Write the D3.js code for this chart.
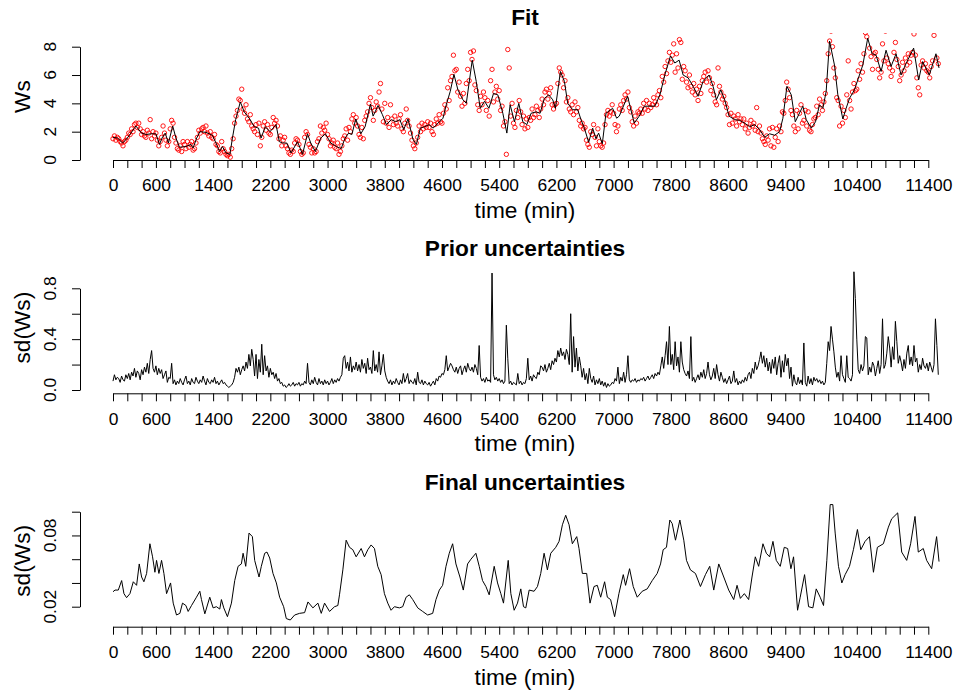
<!DOCTYPE html>
<html>
<head>
<meta charset="utf-8">
<script src="https://cdn.jsdelivr.net/npm/d3@7"></script>
<style>
  html, body { margin: 0; padding: 0; background: #fff; }
  svg { display: block; font-family: "Liberation Sans", Arial, Helvetica, sans-serif; }
</style>
</head>
<body>
<svg id="chart" width="956" height="693"></svg>
<script>
// ---- data -------------------------------------------------------------
// observed wind speed, one reading every 20 minutes starting at t = 0
const obsStep = 20;
const obsWs = [
  1.5,1.7,1.4,1.6,1.5,1.3,1.2,1.0,1.3,1.4, 1.6,1.9,1.8,2.2,2.0,2.5,2.6,2.3,2.6,2.2,
  1.8,2.0,1.7,1.6,2.1,1.9,2.85,1.5,2.0,1.7, 1.9,1.4,1.0,1.3,1.6,2.4,1.9,1.4,1.0,1.3,
  2.2,2.8,2.6,1.6,1.2,0.8,0.7,1.0,0.6,1.3, 1.1,0.8,1.3,0.9,1.1,1.3,0.7,0.8,1.2,1.6,
  2.1,1.9,2.2,2.3,2.0,2.4,1.9,1.7,2.0,1.6, 1.5,1.8,1.1,1.0,0.6,0.5,1.3,0.8,0.6,0.4,
  0.3,0.4,0.2,0.8,1.5,2.6,3.1,3.5,4.3,4.2, 5.0,3.6,3.3,3.9,2.9,2.7,3.2,2.4,2.2,2.0,
  2.5,1.8,2.6,1.0,1.6,2.4,2.7,2.1,2.5,1.9, 1.8,2.3,3.0,2.6,2.8,2.4,1.5,1.7,1.0,1.4,
  1.6,1.0,0.8,0.5,0.4,0.7,0.6,1.2,1.5,1.4, 1.1,0.6,0.4,0.5,1.6,2.0,1.8,1.1,0.9,0.5,
  0.8,0.5,0.6,1.3,1.5,2.4,1.9,2.3,2.1,2.6, 1.8,1.5,1.0,1.2,1.4,0.9,0.8,1.2,0.4,0.6,
  1.0,1.5,1.7,2.2,1.4,2.3,2.0,2.9,3.2,2.6, 3.0,2.4,1.8,1.6,2.3,1.5,2.8,3.1,3.4,4.0,
  4.4,3.7,2.8,3.5,4.1,3.8,4.8,5.4,3.6,2.7, 4.0,2.6,3.0,2.3,3.9,2.9,2.5,3.1,2.6,2.4,
  2.9,3.2,2.2,2.0,2.6,3.6,2.8,2.4,1.9,1.4, 1.0,0.8,1.2,1.6,2.4,2.0,2.6,2.2,2.5,2.3,
  2.7,2.3,2.6,2.0,1.8,2.5,2.9,2.6,3.2,2.7, 2.6,3.3,3.9,3.6,5.1,4.2,5.6,5.9,7.4,6.3,
  6.4,4.8,5.5,4.5,3.8,4.7,4.0,5.4,6.4,5.6, 7.6,7.1,7.7,5.3,4.9,3.9,3.5,4.5,3.9,4.8,
  4.4,3.5,4.2,3.1,5.6,6.4,4.1,4.8,5.2,4.3, 4.9,3.5,3.8,2.4,2.7,0.4,7.8,6.5,3.1,4.0,
  2.6,2.3,3.5,3.0,4.2,3.4,2.5,3.1,2.2,2.9, 2.3,3.0,2.8,3.6,3.0,3.2,3.8,3.5,3.0,3.6,
  4.3,3.9,4.8,5.0,4.3,4.7,5.1,3.9,3.6,3.9, 4.0,5.4,6.5,6.2,6.0,5.1,5.6,4.1,4.4,3.6,
  3.4,3.9,3.2,4.1,3.4,3.7,2.8,2.4,2.6,2.2, 2.3,1.4,1.1,0.9,2.0,1.8,2.5,1.6,1.0,2.2,
  1.3,1.0,0.9,1.2,2.5,3.2,3.5,3.1,3.4,3.9, 3.3,2.5,2.0,2.4,3.6,3.9,3.5,4.2,4.6,4.3,
  4.8,3.7,3.4,2.7,2.4,3.1,2.6,3.4,3.3,3.6, 3.3,4.0,3.6,4.2,3.5,4.0,3.7,3.9,4.4,4.1,
  3.9,4.6,4.9,4.4,5.9,5.5,6.6,6.1,7.0,7.6, 6.9,7.4,8.2,6.2,7.5,6.5,8.5,8.3,5.7,6.6,
  6.3,5.5,5.1,6.0,5.2,4.8,5.4,4.6,5.0,4.2, 5.2,4.7,5.6,5.9,6.2,5.5,6.3,5.8,4.9,5.4,
  4.6,4.1,3.9,6.5,5.2,4.8,4.3,4.5,4.0,3.7, 3.2,2.5,3.3,2.6,3.1,2.9,2.4,3.2,2.7,2.9,
  2.5,2.9,2.2,2.6,1.9,2.3,2.8,2.4,2.6,2.1, 3.7,2.0,2.4,1.9,1.5,1.3,1.1,1.7,1.4,2.2,
  1.0,2.3,0.9,1.6,2.2,1.3,2.4,2.0,3.4,3.3, 4.2,5.5,5.0,4.4,3.5,3.2,2.4,2.0,3.5,2.2,
  3.3,3.9,2.6,2.8,3.5,2.4,3.4,2.1,2.0,2.5, 2.9,3.0,3.8,3.2,4.3,3.9,3.5,4.1,4.7,5.6,
  7.5,8.4,9.1,8.0,6.5,5.8,4.4,4.2,2.4,3.8, 2.6,3.5,3.0,4.6,7.0,4.2,3.6,4.8,5.4,4.9,
  5.0,6.3,5.7,6.8,6.2,7.5,9.0,8.7,9.2,7.9, 7.3,6.4,7.5,7.6,7.1,6.4,5.8,6.2,8.2,7.0,
  9.1,7.2,6.8,6.5,5.9,6.3,7.6,8.3,7.1,6.6, 5.6,6.0,6.9,6.3,7.2,6.7,7.5,6.9,7.4,7.6,
  8.9,7.4,5.8,5.1,4.6,6.7,7.0,6.5,6.8,6.3, 6.2,5.8,6.6,7.0,8.8,9.2,7.2,6.8
];

// fitted wind speed (black line)
const fitTime = [
  0,65,135,200,250,320,400,460,530,600,650,685,730,775,835,880,930,1020,1090,1120,
  1170,1215,1300,1390,1440,1490,1530,1580,1635,1670,1715,1780,1835,1905,1975,2035,2070,2130,2195,2280,
  2325,2370,2430,2490,2580,2650,2720,2765,2830,2905,2970,3045,3125,3190,3245,3295,3340,3395,3465,3525,
  3600,3637,3707,3767,3823,3893,3953,4010,4065,4125,4195,4242,4298,4358,4420,4475,4545,4614,4660,4716,
  4767,4823,4893,4940,5023,5079,5135,5195,5256,5321,5381,5451,5507,5553,5614,5674,5730,5786,5846,5916,
  5972,6032,6093,6149,6186,6256,6312,6358,6428,6498,6544,6591,6651,6707,6753,6790,6842,6893,6986,7042,
  7079,7195,7288,7358,7428,7498,7577,7647,7716,7795,7856,7916,7972,8042,8112,8181,8251,8335,8391,8437,
  8498,8553,8614,8693,8763,8833,8902,8972,9042,9112,9181,9251,9321,9367,9423,9484,9540,9646,9693,9763,
  9823,9879,9926,9972,10019,10088,10135,10205,10251,10298,10367,10437,10484,10553,10614,10670,10740,10809,10879,10949,
  11019,11088,11195,11265,11321,11414,11507,11550
];
const fitWs = [
  1.6,1.55,1.2,1.55,1.9,2.4,1.9,1.8,1.85,1.85,1.1,1.55,1.9,1.2,2.4,1.55,0.9,0.95,1.1,0.85,
  1.55,2.0,1.95,1.75,1.2,0.6,0.95,0.5,0.4,1.55,2.85,4.1,3.4,2.95,2.35,2.25,1.55,2.35,2.0,2.5,
  1.3,1.2,1.2,0.5,1.3,0.4,1.85,1.2,0.6,1.55,1.85,1.2,0.95,0.8,1.55,1.9,1.8,2.9,1.85,2.35,
  3.95,3.1,3.85,3.2,2.5,2.85,2.7,2.85,2.15,2.9,1.45,1.1,2.25,2.35,2.5,2.25,2.6,2.95,3.9,4.85,
  6.05,4.95,4.25,4.0,7.05,5.55,3.65,4.15,3.65,4.7,4.6,3.3,1.9,3.9,2.7,4.0,2.7,2.5,3.3,3.4,
  3.3,4.35,4.6,4.25,3.65,6.25,5.55,4.0,3.55,3.55,2.85,2.25,1.25,2.25,1.5,1.9,1.15,3.3,3.65,2.95,
  3.1,4.5,2.6,3.1,3.8,3.8,3.8,4.6,6.0,7.35,6.85,7.05,6.0,5.8,5.2,4.5,5.55,6.0,5.2,4.25,
  4.95,4.25,3.1,2.85,2.8,2.6,2.35,2.5,2.15,1.6,1.85,1.75,2.0,2.95,5.2,4.6,2.7,3.8,2.85,2.25,
  2.7,3.9,3.65,4.85,8.4,6.7,4.6,2.9,3.65,4.35,4.95,6.0,6.7,8.6,7.5,7.4,6.25,7.75,6.6,7.5,
  6.0,6.8,7.9,5.65,6.95,6.0,7.5,6.5
];

// prior standard deviation, one value every 20 minutes
const priorStep = 20;
const priorSd = [
  .07,.12,.08,.10,.09,.06,.11,.08,.07,.12, .09,.13,.08,.14,.11,.17,.10,.15,.13,.08,
  .16,.12,.18,.14,.21,.13,.24,.31,.17,.14, .19,.12,.17,.13,.16,.09,.12,.15,.06,.10,
  .09,.21,.05,.08,.04,.07,.05,.09,.06,.04, .08,.11,.05,.07,.04,.09,.06,.05,.10,.07,
  .05,.08,.06,.11,.07,.04,.09,.06,.05,.08, .06,.10,.05,.07,.04,.06,.08,.05,.06,.04,
  .03,.02,.03,.04,.06,.10,.17,.14,.18,.12, .16,.19,.15,.22,.17,.28,.19,.32,.24,.11,
  .28,.09,.24,.14,.36,.12,.27,.15,.19,.10, .17,.12,.14,.09,.13,.07,.09,.05,.06,.03,
  .04,.02,.03,.05,.03,.04,.06,.03,.05,.04, .06,.03,.05,.04,.07,.05,.21,.06,.04,.08,
  .05,.10,.06,.04,.09,.05,.07,.04,.08,.05, .07,.04,.06,.09,.05,.08,.06,.09,.07,.10,
  .12,.25,.27,.17,.22,.15,.26,.14,.19,.16, .22,.15,.20,.14,.24,.17,.21,.13,.25,.16,
  .18,.13,.31,.15,.20,.14,.30,.12,.19,.28, .15,.10,.07,.05,.08,.04,.07,.05,.09,.06,
  .04,.08,.05,.13,.06,.09,.13,.05,.08,.06, .05,.09,.04,.14,.06,.05,.08,.04,.07,.05,
  .04,.06,.03,.05,.07,.04,.09,.07,.11,.10, .13,.12,.16,.27,.15,.18,.21,.19,.16,.14,
  .18,.13,.17,.19,.12,.16,.19,.14,.21,.17, .15,.18,.14,.20,.17,.12,.35,.10,.07,.09,
  .06,.10,.07,.08,.06,.92,.12,.08,.10,.07, .09,.06,.08,.05,.07,.51,.25,.05,.07,.04,
  .06,.05,.04,.13,.05,.07,.04,.06,.05,.09, .25,.08,.11,.07,.12,.10,.09,.14,.12,.19,
  .18,.15,.20,.14,.17,.21,.16,.23,.20,.25, .22,.31,.26,.33,.27,.30,.24,.32,.28,.20,
  .60,.14,.42,.18,.33,.15,.26,.19,.10,.17, .08,.13,.05,.17,.09,.06,.11,.04,.08,.05,
  .09,.04,.07,.03,.06,.02,.05,.03,.04,.06, .05,.09,.07,.18,.05,.10,.07,.14,.06,.12,
  .27,.08,.06,.08,.07,.09,.06,.08,.07,.09, .08,.10,.07,.09,.11,.08,.10,.12,.09,.13,
  .11,.14,.12,.19,.26,.17,.27,.38,.20,.50, .20,.28,.16,.38,.19,.26,.14,.38,.22,.16,
  .13,.11,.15,.09,.42,.07,.10,.06,.09,.12, .08,.14,.10,.16,.09,.13,.22,.12,.08,.11,
  .17,.09,.20,.12,.07,.14,.10,.06,.09,.05, .08,.11,.05,.07,.15,.06,.09,.04,.07,.05,
  .08,.06,.10,.07,.12,.14,.09,.17,.13,.22, .16,.19,.24,.30,.21,.27,.18,.25,.15,.22,
  .13,.24,.17,.26,.12,.21,.27,.10,.23,.14, .28,.19,.25,.09,.18,.03,.12,.06,.04,.10,
  .05,.08,.04,.37,.06,.03,.11,.05,.09,.04, .10,.07,.09,.06,.08,.05,.07,.04,.06,.21,
  .38,.31,.50,.40,.30,.18,.10,.14,.07,.27, .12,.09,.06,.27,.10,.09,.07,.12,.93,.72,
  .40,.16,.13,.20,.15,.19,.42,.41,.12,.18, .14,.22,.19,.11,.17,.23,.13,.20,.56,.17,
  .20,.29,.42,.33,.18,.34,.24,.54,.38,.21, .27,.22,.15,.24,.17,.29,.35,.20,.26,.19,
  .35,.22,.25,.14,.20,.16,.25,.19,.17,.21, .15,.22,.18,.14,.20,.56,.35,.12
];

// final standard deviation
const finalTime = [
  0,28,74,121,153,190,237,284,330,367,400,432,470,516,553,586,609,642,679,712,
  749,805,842,888,935,972,1019,1051,1098,1167,1214,1237,1284,1353,1400,1446,1493,1516,1549,1600,
  1656,1702,1749,1795,1819,1856,1902,1949,1981,2042,2074,2121,2153,2191,2237,2284,2330,2386,2423,2479,
  2540,2609,2679,2726,2795,2865,2912,2958,3028,3098,3144,3167,3214,3260,3307,3353,3400,3470,3516,3563,
  3609,3656,3702,3749,3795,3842,3888,3935,4005,4051,4098,4144,4191,4261,4330,4400,4470,4516,4563,4609,
  4656,4702,4749,4795,4851,4898,4958,5005,5074,5121,5167,5214,5260,5330,5377,5423,5460,5526,5563,5609,
  5656,5702,5740,5772,5819,5888,5935,5981,6028,6074,6121,6191,6237,6284,6330,6377,6423,6484,6516,6563,
  6623,6670,6726,6772,6819,6874,6912,6958,7014,7074,7135,7167,7223,7274,7330,7400,7470,7540,7609,7656,
  7693,7739,7786,7819,7865,7926,7981,8019,8074,8144,8214,8284,8344,8400,8470,8540,8609,8679,8726,8772,
  8828,8888,8935,8981,9028,9088,9135,9181,9228,9274,9330,9386,9433,9479,9516,9572,9609,9670,9726,9786,
  9833,9888,9935,9981,10028,10065,10098,10144,10191,10237,10298,10353,10409,10456,10516,10577,10633,10688,10772,10842,
  10888,10972,11028,11098,11153,11214,11260,11330,11377,11447,11516,11550
];
const finalSd = [
  .0326,.034,.034,.042,.031,.0276,.031,.041,.038,.056,.045,.041,.048,.073,.062,.049,.059,.048,.059,.048,
  .031,.040,.023,.013,.0144,.023,.021,.016,.021,.028,.033,.026,.014,.028,.019,.020,.018,.026,.019,.0116,
  .023,.042,.054,.056,.065,.054,.082,.079,.059,.045,.054,.065,.066,.061,.048,.040,.028,.020,.010,.0088,
  .013,.0144,.015,.024,.019,.023,.0144,.023,.016,.020,.021,.030,.051,.076,.070,.068,.062,.069,.062,.068,
  .072,.069,.054,.047,.031,.023,.017,.020,.019,.020,.028,.030,.026,.019,.016,.013,.0144,.026,.034,.038,
  .054,.065,.073,.056,.045,.034,.056,.060,.065,.054,.042,.037,.030,.054,.040,.031,.023,.059,.031,.017,
  .023,.035,.020,.019,.034,.033,.037,.048,.065,.051,.065,.070,.075,.089,.097,.089,.073,.079,.069,.048,
  .048,.023,.037,.038,.028,.041,.028,.026,.0116,.031,.047,.038,.052,.037,.028,.033,.035,.042,.048,.056,
  .068,.070,.093,.090,.076,.093,.076,.059,.051,.048,.037,.047,.054,.034,.056,.045,.034,.026,.038,.027,
  .031,.026,.045,.062,.054,.073,.065,.062,.075,.059,.054,.070,.069,.052,.062,.017,.028,.047,.020,.019,
  .035,.028,.021,.059,.106,.106,.082,.054,.040,.047,.054,.068,.085,.068,.075,.079,.049,.070,.073,.087,
  .094,.099,.066,.059,.073,.096,.066,.069,.059,.052,.079,.058
];

// axes
const xTicks = d3.range(0, 11401, 200);
const xLabels = [0,600,1400,2200,3000,3800,4600,5400,6200,7000,7800,8600,9400,10400,11400];
const fitYTicks = [0,2,4,6,8];
const fitYLabels = [0,2,4,6,8];
const priorYTicks = [0,0.2,0.4,0.6,0.8];
const priorYLabels = [0,0.4,0.8];
const finalYTicks = [0.02,0.04,0.06,0.08,0.10];
const finalYLabels = [0.02,0.08];

// ---- drawing ----------------------------------------------------------
const svg = d3.select("#chart");
const FONT_TICK = 17.4, FONT_LAB = 22.7;
const axisLeftX = 80;
const centerX = 525;

const x = d3.scaleLinear().domain([0, 11400]).range([113, 928.3]);

const panels = [
  { title: "Fit", ylab: "Ws", titleY: 25, axisY: 160, clipTop: 33,
    y: d3.scaleLinear().domain([0, 8]).range([160, 46.7]),
    ticks: fitYTicks, labels: fitYLabels, fmt: d3.format("d") },
  { title: "Prior uncertainties", ylab: "sd(Ws)", titleY: 256, axisY: 393.3, clipTop: 262,
    y: d3.scaleLinear().domain([0, 0.8]).range([390, 288.3]),
    ticks: priorYTicks, labels: priorYLabels, fmt: d3.format(".1f") },
  { title: "Final uncertainties", ylab: "sd(Ws)", titleY: 490, axisY: 626.7, clipTop: 495,
    y: d3.scaleLinear().domain([0.02, 0.10]).range([606.7, 511.7]),
    ticks: finalYTicks, labels: finalYLabels, fmt: d3.format(".2f") }
];

panels.forEach((p, i) => {
  const g = svg.append("g");
  const clipId = "clip" + i;
  svg.append("clipPath").attr("id", clipId)
    .append("rect").attr("x", axisLeftX).attr("y", p.clipTop)
    .attr("width", 956 - axisLeftX).attr("height", p.axisY + 6 - p.clipTop);

  // title
  g.append("text").attr("x", centerX).attr("y", p.titleY)
    .attr("text-anchor", "middle").attr("font-weight", "bold")
    .attr("font-size", FONT_LAB).text(p.title);

  // x axis
  const xa = d3.axisBottom(x).tickValues(xTicks).tickSize(8).tickSizeOuter(0).tickPadding(11)
    .tickFormat(d => xLabels.includes(d) ? String(d) : "");
  const gx = g.append("g").attr("transform", `translate(0,${p.axisY})`).call(xa);
  gx.selectAll("text").attr("font-size", FONT_TICK).attr("fill", "#000")
    .attr("font-family", "Liberation Sans, Arial, Helvetica, sans-serif");
  gx.selectAll("path, line").attr("stroke", "#000").attr("stroke-width", 1);

  g.append("text").attr("x", centerX).attr("y", p.axisY + 58)
    .attr("text-anchor", "middle").attr("font-size", FONT_LAB).text("time (min)");

  // y axis
  const ya = d3.axisLeft(p.y).tickValues(p.ticks).tickSize(8).tickSizeOuter(0).tickFormat("");
  const gy = g.append("g").attr("transform", `translate(${axisLeftX},0)`).call(ya);
  gy.selectAll("path, line").attr("stroke", "#000").attr("stroke-width", 1);
  gy.selectAll("text").remove();
  p.labels.forEach(v => {
    g.append("text")
      .attr("transform", `translate(${axisLeftX - 24.5},${p.y(v)}) rotate(-90)`)
      .attr("text-anchor", "middle").attr("font-size", FONT_TICK).text(p.fmt(v));
  });
  const yMid = (p.clipTop + p.axisY) / 2;
  g.append("text")
    .attr("transform", `translate(29.5,${yMid}) rotate(-90)`)
    .attr("text-anchor", "middle").attr("font-size", FONT_LAB).text(p.ylab);

  p.g = g; p.clipId = clipId;
});

// panel 1: observations and fitted curve
const p1 = panels[0];
const plot1 = p1.g.append("g").attr("clip-path", `url(#${p1.clipId})`);
plot1.selectAll("circle").data(obsWs).join("circle")
  .attr("cx", (d, i) => x(i * obsStep)).attr("cy", d => p1.y(d))
  .attr("r", 2.2).attr("fill", "none").attr("stroke", "#ff0000").attr("stroke-width", 0.9);
plot1.append("path")
  .datum(fitTime.map((t, i) => [t, fitWs[i]]))
  .attr("d", d3.line().x(d => x(d[0])).y(d => p1.y(d[1])))
  .attr("fill", "none").attr("stroke", "#000").attr("stroke-width", 1);

// panel 2: prior sd
const p2 = panels[1];
p2.g.append("g").attr("clip-path", `url(#${p2.clipId})`).append("path")
  .datum(priorSd.map((v, i) => [i * priorStep, v]))
  .attr("d", d3.line().x(d => x(d[0])).y(d => p2.y(d[1])))
  .attr("fill", "none").attr("stroke", "#000").attr("stroke-width", 1);

// panel 3: final sd
const p3 = panels[2];
p3.g.append("g").attr("clip-path", `url(#${p3.clipId})`).append("path")
  .datum(finalTime.map((t, i) => [t, finalSd[i]]))
  .attr("d", d3.line().x(d => x(d[0])).y(d => p3.y(d[1])))
  .attr("fill", "none").attr("stroke", "#000").attr("stroke-width", 1);
</script>
</body>
</html>
